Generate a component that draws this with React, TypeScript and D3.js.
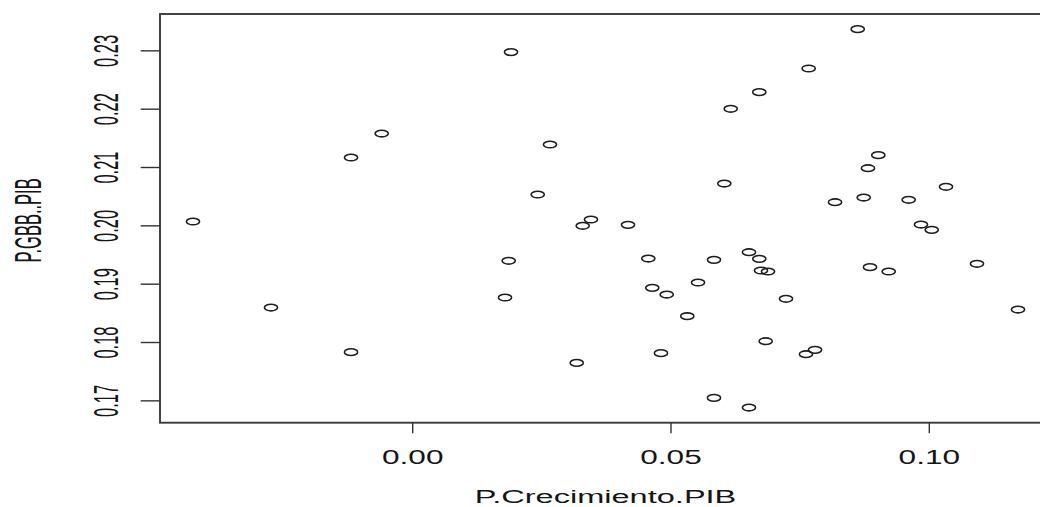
import React from "react";
import * as d3 from "d3";

const crecimiento: number[] = [
  -0.04253, -0.02743, -0.01194, -0.01194, -0.006, 0.01787, 0.01858, 0.01903,
  0.0242, 0.02658, 0.03175, 0.03291, 0.03451, 0.04168, 0.04561, 0.04638,
  0.04806, 0.04917, 0.05315, 0.05523, 0.05832, 0.05832, 0.06032, 0.06156,
  0.0651, 0.0651, 0.06709, 0.06709, 0.06742, 0.06833, 0.06878, 0.07226,
  0.07613, 0.07665, 0.07788, 0.08175, 0.08614, 0.0873, 0.08813, 0.08852,
  0.09013, 0.09214, 0.09601, 0.09839, 0.10047, 0.10323, 0.10923, 0.11717,
];
const gbb: number[] = [
  0.20074, 0.18599, 0.21171, 0.17835, 0.21582, 0.18771, 0.194, 0.22978,
  0.20537, 0.21394, 0.17651, 0.2, 0.20108, 0.20017, 0.19439, 0.18937,
  0.17818, 0.18822, 0.18452, 0.19028, 0.19417, 0.17051, 0.20725, 0.22006,
  0.19549, 0.16885, 0.22292, 0.19434, 0.19234, 0.18023, 0.19217, 0.18749,
  0.178, 0.22697, 0.17874, 0.20406, 0.23372, 0.20485, 0.20989, 0.19292,
  0.21212, 0.19217, 0.20446, 0.20022, 0.19931, 0.20669, 0.19349, 0.18565,
];
const xTicks: number[] = [0, 0.05, 0.1];
const xTickLabels: string[] = ["0.00", "0.05", "0.10"];
const yTicks: number[] = [0.17, 0.18, 0.19, 0.2, 0.21, 0.22, 0.23];
const yTickLabels: string[] = ["0.17", "0.18", "0.19", "0.20", "0.21", "0.22", "0.23"];
const xTitle = "P.Crecimiento.PIB";
const yTitle = "P.GBB..PIB";

function pad(ext: [number, number]): [number, number] {
  const r = ext[1] - ext[0];
  return [ext[0] - 0.04 * r, ext[1] + 0.04 * r];
}

export default function App() {
  const W = 1040;
  const H = 507;
  const left = 160;
  const right = 1051;
  const top = 14;
  const bottom = 422.7;

  const x = d3.scaleLinear().domain(pad(d3.extent(crecimiento) as [number, number])).range([left, right]);
  const y = d3.scaleLinear().domain(pad(d3.extent(gbb) as [number, number])).range([bottom, top]);

  const font = "'Liberation Sans', Arial, sans-serif";
  const ink = "#151515";

  return (
    <svg
      width={W}
      height={H}
      style={{ position: "absolute", left: 0, top: 0, background: "#fff" }}
    >
      <rect x={0} y={0} width={W} height={H} fill="#fff" />
      <rect
        x={left}
        y={top}
        width={right - left}
        height={bottom - top}
        fill="none"
        stroke="#3a3a3a"
        strokeWidth={1.9}
      />
      {xTicks.map((t, i) => (
        <g key={"xt" + i}>
          <line x1={x(t)} x2={x(t)} y1={bottom} y2={bottom + 10.5} stroke="#333" strokeWidth={1.4} />
          <text
            transform={`translate(${x(t)},463.5) scale(1.62,1)`}
            textAnchor="middle"
            fontFamily={font}
            fontSize={19.5}
            fill={ink}
          >
            {xTickLabels[i]}
          </text>
        </g>
      ))}
      {yTicks.map((t, i) => (
        <g key={"yt" + i}>
          <line x1={left - 19.3} x2={left} y1={y(t)} y2={y(t)} stroke="#333" strokeWidth={1.4} />
          <text
            transform={`translate(118.3,${y(t)}) rotate(-90) scale(1,2.1)`}
            textAnchor="middle"
            fontFamily={font}
            fontSize={16.5}
            fill={ink}
          >
            {yTickLabels[i]}
          </text>
        </g>
      ))}
      <text
        transform={`translate(${(left + right) / 2},503.3) scale(1.75,1)`}
        textAnchor="middle"
        fontFamily={font}
        fontSize={18.6}
        fill={ink}
      >
        {xTitle}
      </text>
      <text
        transform={`translate(40.7,${(top + bottom) / 2 + 2}) rotate(-90) scale(1,2.2)`}
        textAnchor="middle"
        fontFamily={font}
        fontSize={16.5}
        fill={ink}
      >
        {yTitle}
      </text>
      {crecimiento.map((v, i) => (
        <ellipse
          key={"p" + i}
          cx={x(v)}
          cy={y(gbb[i])}
          rx={6.6}
          ry={3.3}
          fill="none"
          stroke="#1e1e1e"
          strokeWidth={1.55}
        />
      ))}
    </svg>
  );
}
